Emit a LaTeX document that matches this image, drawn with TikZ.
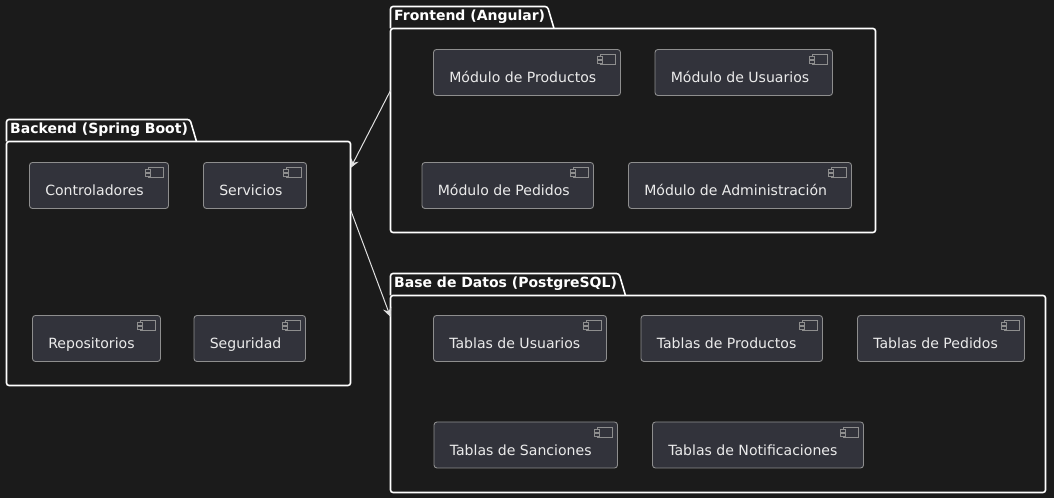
\documentclass[tikz,border=0pt]{standalone}
\usepackage{fontspec}
\setmainfont{DejaVu Sans}
\usetikzlibrary{calc,arrows.meta}
\definecolor{bgc}{HTML}{1B1B1B}
\definecolor{compfill}{HTML}{32333B}
\definecolor{compline}{HTML}{8E8E8E}
\definecolor{arrowc}{HTML}{E0E0E0}
\tikzset{
  x=0.75pt,y=-0.75pt,
  pkgline/.style={draw=white,line width=1.2pt,rounded corners=1.9pt},
  pkgbody/.style={pkgline,inner sep=0pt,outer sep=0pt,anchor=north west},
  pkgtitle/.style={text=white,font=\fontsize{10.5pt}{12pt}\selectfont\bfseries,anchor=base west,inner sep=0pt},
  compbox/.style={draw=compline,fill=compfill,line width=0.65pt,rounded corners=2.2pt,inner sep=0pt,outer sep=0pt,anchor=north west},
  complabel/.style={text=white!92!black,font=\fontsize{10.55pt}{12pt}\selectfont,anchor=base west,inner sep=0pt},
  compicon/.style={draw=compline,fill=compfill,line width=0.55pt},
  link/.style={draw=arrowc,line width=0.75pt,-{Stealth[length=7pt,width=6.5pt,inset=2.6pt]}},
}
% #1 name, #2 x1, #3 y1, #4 x2, #5 y2, #6 label
\newcommand{\compnode}[6]{%
  \node[compbox,minimum width={(#4-#2)*0.75pt},minimum height={(#5-#3)*0.75pt}] (#1) at (#2,#3) {};
  \node[complabel] (#1text) at (#2+15.5,#3+33.5) {#6};
  \begin{scope}[shift={(#1.north east)}]
    \draw[compicon] (-20.5,5) rectangle (-5.5,15);
    \draw[compicon] (-23,7) rectangle (-18,10);
    \draw[compicon] (-23,11) rectangle (-18,14);
  \end{scope}
}
% #1 name, #2 x1, #3 tab top, #4 body top, #5 x2, #6 y2, #7 tab top right, #8 title
\newcommand{\pkgnode}[8]{%
  \draw[pkgline] (#2,#4) -- (#2,#3) -- (#7,#3) -- (#7+6.5,#4);
  \node[pkgbody,minimum width={(#5-#2)*0.75pt},minimum height={(#6-#4)*0.75pt}] (#1) at (#2,#4) {};
  \node[pkgtitle] (#1title) at (#2+3.4,#3+14.5) {#8};
}
\begin{document}
\begin{tikzpicture}
\fill[bgc] (0,0) rectangle (1054,498);
\useasboundingbox (0,0) rectangle (1054,498);

\pkgnode{fe}{390.5}{6.5}{28.5}{875.5}{232.5}{547.5}{Frontend (Angular)}
\pkgnode{be}{6.5}{119.5}{141.5}{350.5}{385.5}{190}{Backend (Spring Boot)}
\pkgnode{db}{390.5}{273.5}{295.5}{1045.5}{492.5}{619}{Base de Datos (PostgreSQL)}

\compnode{mprod}{433.5}{49.5}{620.5}{95.5}{Módulo de Productos}
\compnode{musu}{655}{49.5}{832.5}{95.5}{Módulo de Usuarios}
\compnode{mped}{422}{162.5}{593.5}{208.5}{Módulo de Pedidos}
\compnode{madm}{628.5}{162.5}{851.5}{208.5}{Módulo de Administración}

\compnode{ctrl}{29.5}{162.5}{168.5}{208.5}{Controladores}
\compnode{serv}{203.5}{162.5}{306.5}{208.5}{Servicios}
\compnode{repo}{32.5}{315.5}{160.5}{361.5}{Repositorios}
\compnode{segu}{194}{315.5}{305.5}{361.5}{Seguridad}

\compnode{tusu}{433.5}{315.5}{606.5}{361.5}{Tablas de Usuarios}
\compnode{tprod}{641}{315.5}{822.5}{361.5}{Tablas de Productos}
\compnode{tped}{857.5}{315.5}{1024.5}{361.5}{Tablas de Pedidos}
\compnode{tsan}{434}{422}{617.5}{468}{Tablas de Sanciones}
\compnode{tnot}{652.5}{422}{863.5}{468}{Tablas de Notificaciones}

\draw[link] ($(fe.north west)!0.304!(fe.south west)$) -- ($(be.north east)!0.109!(be.south east)$);
\draw[link] ($(be.north east)!0.279!(be.south east)$) -- ($(db.north west)!0.109!(db.south west)$);
\end{tikzpicture}
\end{document}
